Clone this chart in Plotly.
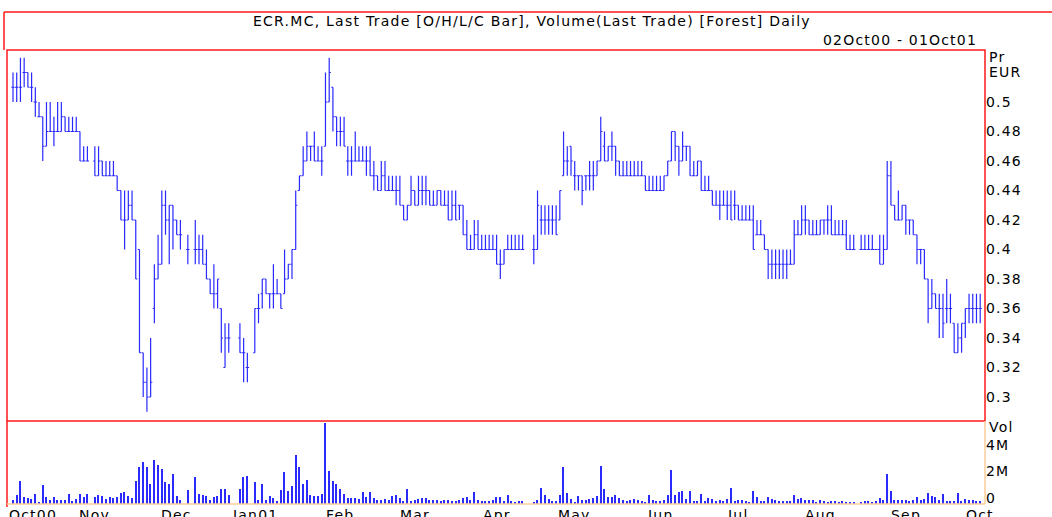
import pandas as pd
import plotly.graph_objects as go

W, H = 1052, 517

# trading days shown on the chart (weekdays, 02Oct00 .. 01Oct01)
DATES = pd.bdate_range("2000-10-02", "2001-10-01")

# prices in euro cents, one entry per trading day, None = no trade
OPEN_C = [
    51, 51, 51, 52, 52, 51, 50, 49, 49, 47, 48, 48, 48, 48, 49, 48, 48, 48, 48, 46, 46, None,  # Oct
    46, 45, 46, 45, 45, 45, 45, 44, 42, 42, 43, 42, 40, 33, 31, 30, 36, 38, 39, 43, 42, 43,  # Nov
    42, 41, None, 40, None, 40, 40, 40, 39, 38, 37, 37, 36, 32, 34, None, None, 34, 33, 32, None,  # Dec
    33, 36, 37, 38, 37, 37, 37, 37, 37, 38, 39, 40, 44, 45, 46, 47, 47, 46, 46, 47, 50, 51, 49,  # Jan
    48, 48, 46, 46, 46, 46, 46, 46, 46, 45, 45, 44, 45, 44, 44, 44, 44, 43, 42, 43,  # Feb
    44, 43, 44, 44, 44, 43, 43, 44, 43, 43, 42, 43, 43, 43, 41, 40, 40, 41, 40, 40, 40, 40,  # Mar
    40, 39, 39, 40, 40, 40, 40, 40, None, None, 40, 40, 42, 42, 42, 42, 42, 42, 45, 46, 47,  # Apr
    45, 45, 45, 45, 45, 45, 45, 46, 47, 46, 47, 47, 46, 45, 45, 45, 45, 45, 45, 45, 44, 44, 44,  # May
    44, 44, 45, 46, 48, 47, 46, 47, 47, 45, 45, 46, 44, 44, 44, 43, 43, 43, 43, 43, 43,  # Jun
    43, 42, 42, 42, 42, 41, 41, 41, 40, 39, 39, 39, 39, 39, 39, 39, 41, 41, 42, 42, 41, 41,  # Jul
    41, 42, 42, 42, 41, 41, 41, 41, 40, 40, None, 40, 40, 40, 40, 40, 40, 39, 40, 45, 43, 42, 42,  # Aug
    43, 42, 42, 41, 40, 40, 38, 36, 37, 36, 36, 36, 36, 35, 33, 34, 35, 36, 36, 36,  # Sep
    36,  # Oct
]
HIGH_C = [
    52, 52, 53, 53, 52, 52, 51, 50, 49, 50, 50, 49, 50, 50, 49, 49, 49, 49, 48, 47, 47, None,
    47, 47, 46, 46, 46, 46, 45, 44, 44, 44, 44, 42, 40, 33, 32, 34, 39, 41, 44, 44, 43, 43,
    42, 42, None, 41, None, 42, 41, 41, 40, 38, 39, 38, 36, 35, 35, None, None, 35, 34, 33, None,
    36, 37, 38, 38, 37, 39, 38, 37, 40, 39, 40, 44, 45, 47, 48, 47, 48, 47, 47, 52, 53, 51, 49,
    49, 49, 47, 47, 48, 47, 47, 47, 47, 46, 45, 46, 46, 45, 45, 45, 45, 43, 43, 45,
    44, 45, 45, 45, 44, 44, 44, 44, 44, 44, 44, 44, 43, 43, 42, 41, 42, 42, 41, 41, 41, 41,
    41, 40, 40, 41, 41, 41, 41, 41, None, None, 41, 44, 43, 43, 43, 43, 43, 44, 48, 47, 47,
    46, 45, 45, 45, 46, 46, 46, 49, 48, 47, 48, 47, 46, 46, 46, 46, 46, 46, 46, 45, 45, 45, 45,
    45, 45, 46, 48, 48, 47, 48, 47, 47, 46, 46, 46, 45, 45, 44, 44, 44, 44, 44, 44, 44,
    43, 43, 43, 43, 43, 42, 42, 41, 40, 40, 40, 40, 40, 40, 40, 42, 42, 43, 43, 42, 42, 42,
    42, 42, 43, 43, 42, 42, 42, 42, 41, 41, None, 41, 41, 41, 41, 40, 41, 41, 46, 46, 43, 44, 43,
    43, 42, 42, 41, 40, 40, 38, 38, 37, 37, 37, 38, 37, 35, 35, 35, 36, 37, 37, 37,
    37,
]
LOW_C = [
    50, 50, 50, 51, 51, 50, 49, 49, 46, 47, 48, 47, 48, 48, 48, 48, 48, 48, 46, 46, 46, None,
    45, 45, 45, 45, 45, 45, 44, 42, 40, 42, 42, 38, 33, 30, 29, 30, 35, 38, 39, 41, 39, 40,
    41, 40, None, 39, None, 39, 39, 39, 38, 37, 36, 36, 33, 32, 33, None, None, 33, 31, 31, None,
    33, 35, 36, 37, 36, 36, 37, 36, 37, 38, 38, 40, 44, 45, 46, 46, 46, 46, 45, 47, 50, 48, 47,
    47, 47, 45, 45, 46, 46, 46, 45, 45, 44, 44, 44, 44, 44, 44, 43, 43, 42, 42, 43,
    43, 43, 43, 43, 43, 43, 43, 43, 43, 42, 42, 42, 42, 41, 40, 40, 40, 40, 40, 40, 40, 40,
    39, 38, 39, 40, 40, 40, 40, 40, None, None, 39, 40, 41, 41, 41, 41, 41, 42, 45, 45, 45,
    44, 44, 43, 44, 44, 44, 45, 46, 46, 46, 46, 45, 45, 45, 45, 45, 45, 45, 45, 44, 44, 44, 44,
    44, 44, 45, 46, 46, 45, 46, 46, 45, 45, 45, 44, 44, 44, 43, 43, 42, 43, 42, 42, 42,
    42, 42, 42, 42, 40, 41, 41, 40, 38, 38, 38, 38, 38, 38, 39, 39, 41, 41, 41, 41, 41, 41,
    41, 41, 41, 41, 41, 41, 41, 40, 40, 40, None, 40, 40, 40, 40, 40, 39, 39, 40, 43, 42, 42, 42,
    41, 41, 41, 39, 39, 38, 35, 36, 36, 34, 34, 35, 35, 33, 33, 33, 34, 35, 35, 35,
    35,
]
CLOSE_C = [
    51, 51, 51, 52, 51, 51, 50, 49, 47, 48, 48, 48, 48, 49, 48, 48, 48, 48, 46, 46, 46, None,
    45, 46, 45, 45, 45, 45, 44, 42, 42, 43, 42, 38, 33, 31, 30, 31, 38, 39, 43, 42, 43, 42,
    41, 41, None, 40, None, 40, 40, 39, 38, 37, 37, 38, 34, 34, 34, None, None, 33, 33, 32, None,
    36, 36, 38, 37, 37, 37, 37, 36, 38, 39, 40, 43, 45, 46, 47, 47, 46, 46, 46, 50, 52, 49, 48,
    48, 47, 46, 46, 46, 46, 46, 46, 45, 45, 44, 45, 44, 44, 44, 44, 43, 42, 43, 44,
    43, 44, 44, 44, 43, 43, 44, 43, 43, 42, 43, 42, 43, 41, 40, 40, 41, 40, 40, 40, 40, 40,
    39, 39, 40, 40, 40, 40, 40, 40, None, None, 40, 43, 42, 42, 42, 42, 41, 44, 46, 46, 46,
    45, 45, 44, 45, 45, 45, 46, 48, 46, 47, 47, 46, 45, 45, 45, 45, 45, 45, 45, 44, 44, 44, 44,
    44, 45, 46, 48, 47, 46, 47, 47, 45, 45, 46, 44, 44, 44, 43, 43, 43, 43, 43, 42, 43,
    42, 42, 42, 42, 40, 41, 41, 40, 39, 39, 39, 39, 39, 39, 39, 41, 41, 42, 42, 41, 41, 41,
    42, 42, 42, 41, 41, 41, 41, 40, 40, 40, None, 40, 40, 40, 40, 40, 39, 40, 45, 43, 42, 42, 43,
    42, 42, 41, 40, 40, 38, 36, 37, 36, 36, 35, 36, 36, 33, 34, 35, 36, 36, 36, 36,
    36,
]
# volume in millions of shares
VOLUME_M = [
    0.3, 0.7, 1.75, 0.5, 0.45, 0.4, 0.75, 0.15, 1.4, 0.5, 0.3, 0.5, 0.3, 0.3, 0.28, 0.75, 0.2, 0.38, 0.75, 0.5, 0.75, 0,
    0.5, 0.68, 0.58, 0.38, 0.5, 0.45, 0.5, 0.83, 0.93, 0.58, 0.45, 1.75, 2.77, 3.17, 2.8, 1.53, 3.35, 2.97, 2.67, 1.63, 1.53, 2.26,
    0.63, 0.3, 0, 1.08, 0, 2.04, 0.75, 0.7, 0.63, 0.3, 0.5, 0.63, 1.16, 1.16, 0.7, 0, 0, 1.16, 2.04, 2.14, 0,
    1.63, 0.3, 1.53, 0.3, 0.63, 0.45, 0.2, 1.08, 2.4, 1.0, 1.38, 3.67, 2.77, 1.53, 1.84, 0.7, 0.63, 0.63, 0.75, 6.1, 2.47, 1.76, 1.53,
    1.13, 0.75, 0.45, 0.45, 0.45, 0.38, 0.9, 0.53, 0.93, 0.45, 0.33, 0.33, 0.38, 0.33, 0.58, 0.7, 0.45, 0.2, 1.13, 0.25,
    0.33, 0.38, 0.45, 0.45, 0.33, 0.28, 0.28, 0.2, 0.33, 0.33, 0.25, 0.2, 0.33, 0.45, 0.53, 0.33, 0.9, 0.33, 0.2, 0.2, 0.2, 0.28,
    0.53, 0.53, 0.2, 0.7, 0.2, 0.13, 0.2, 0.2, 0, 0, 0.15, 0.33, 1.2, 0.7, 0.38, 0.2, 0.2, 0.7, 2.8, 0.83, 0.38,
    0.15, 0.63, 0.28, 0.33, 0.38, 0.45, 0.58, 2.84, 1.13, 0.53, 0.53, 0.7, 0.45, 0.28, 0.2, 0.33, 0.38, 0.33, 0.2, 0.15, 0.7, 0.28, 0.2,
    0.2, 0.28, 0.7, 2.54, 0.7, 0.88, 1.0, 0.38, 1.0, 0.2, 0.2, 0.78, 0.2, 0.45, 0.38, 0.2, 0.28, 0.2, 0.38, 1.2, 0.2,
    0.28, 0.28, 0.2, 0.15, 0.95, 0.53, 0.2, 0.2, 0.53, 0.38, 0.33, 0.2, 0.2, 0.2, 0.2, 0.7, 0.38, 0.45, 0.33, 0.33, 0.33, 0.13,
    0.28, 0.2, 0.13, 0.2, 0.2, 0.13, 0.2, 0.13, 0.13, 0.13, 0, 0.13, 0.2, 0.2, 0.13, 0.2, 0.45, 0.33, 2.29, 1.0, 0.33, 0.33, 0.28,
    0.33, 0.2, 0.33, 0.53, 0.28, 0.38, 0.83, 0.63, 0.53, 0.33, 0.75, 0.2, 0.2, 0.2, 0.83, 0.2, 0.38, 0.33, 0.33, 0.2,
    0.2,
]

PRICE_TICKS = [0.30, 0.32, 0.34, 0.36, 0.38, 0.40, 0.42, 0.44, 0.46, 0.48, 0.50]
PRICE_TICK_TEXT = ["0.3", "0.32", "0.34", "0.36", "0.38", "0.4", "0.42", "0.44", "0.46", "0.48", "0.5"]
VOL_TICKS = [0, 2e6, 4e6]
VOL_TICK_TEXT = ["0", "2M", "4M"]
MONTH_TEXT = ["Oct00", "Nov", "Dec", "Jan01", "Feb", "Mar", "Apr", "May", "Jun", "Jul", "Aug", "Sep", "Oct"]

TITLE = "ECR.MC, Last Trade [O/H/L/C Bar], Volume(Last Trade) [Forest] Daily"
SUBTITLE = "02Oct00 - 01Oct01"

BLUE = "#2a2aff"
RED = "#ff1a1a"
PEACH = "#ffcc99"
FONT = "DejaVu Sans"

# panel geometry in pixels
L, R = 7, 985
TOP, MID, BOT = 50, 421, 504
X0_PX, STEP_PX = 13, 3.72          # pixel of the first bar and bar spacing
P_REF, P_REF_PX, PX_PER_P = 0.5, 102, 1475
PX_PER_M = 13.25


def fx(p):
    return p / W


def fy(p):
    return 1 - p / H


def sp(text, track=1.2):
    # the original chart uses a widely tracked font
    return f'<span style="letter-spacing:{track}px">{text}</span>'


idx = list(range(len(DATES)))
cents = lambda arr: [None if v is None else v / 100 for v in arr]
vol = [v * 1e6 for v in VOLUME_M]

fig = go.Figure()
fig.add_trace(
    go.Ohlc(
        x=idx,
        open=cents(OPEN_C),
        high=cents(HIGH_C),
        low=cents(LOW_C),
        close=cents(CLOSE_C),
        increasing=dict(line=dict(color=BLUE, width=1.2)),
        decreasing=dict(line=dict(color=BLUE, width=1.2)),
        tickwidth=0.45,
        xaxis="x",
        yaxis="y",
        hoverinfo="skip",
    )
)
fig.add_trace(
    go.Bar(
        x=idx,
        y=vol,
        width=0.35,
        marker=dict(color=BLUE, line=dict(width=0)),
        xaxis="x",
        yaxis="y2",
        hoverinfo="skip",
    )
)

# month labels under the volume panel
month_starts = []
for i, d in enumerate(DATES):
    if i == 0 or d.month != DATES[i - 1].month:
        month_starts.append(i)

x_range = [(L - X0_PX) / STEP_PX, (R - X0_PX) / STEP_PX]
annotations = []
for k, (i, txt) in enumerate(zip(month_starts, MONTH_TEXT)):
    annotations.append(
        dict(
            x=x_range[0] if k == 0 else i,
            y=fy(515),
            xref="x",
            yref="paper",
            text=sp(txt),
            showarrow=False,
            xanchor="left" if k == 0 else "center",
            yanchor="middle",
            font=dict(family=FONT, size=14, color="black"),
        )
    )

for txt, ypx in [("Pr", 57), ("EUR", 72), ("Vol", 427)]:
    annotations.append(
        dict(
            x=fx(R + 2), y=fy(ypx), xref="paper", yref="paper", text=sp(txt),
            showarrow=False, xanchor="left", yanchor="middle",
            font=dict(family=FONT, size=14, color="black"),
        )
    )

annotations.append(
    dict(
        x=fx(532), y=fy(21), xref="paper", yref="paper", text=sp(TITLE, 1.25),
        showarrow=False, xanchor="center", yanchor="middle",
        font=dict(family=FONT, size=14, color="black"),
    )
)
annotations.append(
    dict(
        x=fx(979), y=fy(40), xref="paper", yref="paper", text=sp(SUBTITLE),
        showarrow=False, xanchor="right", yanchor="middle",
        font=dict(family=FONT, size=14, color="black"),
    )
)

shapes = [
    # outer frame
    dict(type="line", xref="paper", yref="paper", x0=fx(4), x1=fx(W), y0=fy(12), y1=fy(12),
         line=dict(color=RED, width=1.5)),
    dict(type="line", xref="paper", yref="paper", x0=fx(4), x1=fx(4), y0=fy(12), y1=fy(TOP),
         line=dict(color=RED, width=1.5)),
    # price panel
    dict(type="rect", xref="paper", yref="paper", x0=fx(L), x1=fx(R), y0=fy(MID), y1=fy(TOP),
         line=dict(color=RED, width=1.5)),
    # volume panel
    dict(type="line", xref="paper", yref="paper", x0=fx(L), x1=fx(L), y0=fy(507), y1=fy(MID),
         line=dict(color=RED, width=1.5)),
    dict(type="line", xref="paper", yref="paper", x0=fx(R), x1=fx(R), y0=fy(BOT), y1=fy(MID),
         line=dict(color=PEACH, width=1.5)),
    dict(type="line", xref="paper", yref="paper", x0=fx(L), x1=fx(R), y0=fy(BOT), y1=fy(BOT),
         line=dict(color=PEACH, width=1.5)),
]

fig.update_layout(
    width=W,
    height=H,
    margin=dict(l=0, r=0, t=0, b=0),
    paper_bgcolor="white",
    plot_bgcolor="white",
    showlegend=False,
    font=dict(family=FONT, size=14, color="black"),
    xaxis=dict(
        domain=[fx(L), fx(R)],
        range=x_range,
        anchor="y2",
        showticklabels=False,
        showgrid=False,
        zeroline=False,
        showline=False,
        ticks="",
        rangeslider=dict(visible=False),
        automargin=False,
    ),
    yaxis=dict(
        domain=[fy(MID), fy(TOP)],
        anchor="x",
        side="right",
        range=[P_REF - (MID - P_REF_PX) / PX_PER_P, P_REF + (P_REF_PX - TOP) / PX_PER_P],
        tickvals=PRICE_TICKS,
        ticktext=[sp(t) for t in PRICE_TICK_TEXT],
        tickfont=dict(family=FONT, size=14, color="black"),
        showgrid=False,
        zeroline=False,
        showline=False,
        ticks="",
        automargin=False,
    ),
    yaxis2=dict(
        domain=[fy(BOT), fy(MID)],
        anchor="x",
        side="right",
        range=[0, (BOT - MID) / PX_PER_M * 1e6],
        tickvals=VOL_TICKS,
        ticktext=[sp(t) for t in VOL_TICK_TEXT],
        ticklabelshift=-6,
        tickfont=dict(family=FONT, size=14, color="black"),
        showgrid=False,
        zeroline=False,
        showline=False,
        ticks="",
        automargin=False,
    ),
    annotations=annotations,
    shapes=shapes,
    bargap=0,
)

# the page's default 8px body margin would push the chart off its frame
fig.write_html(
    "out.html",
    config={"displayModeBar": False},
    post_script="document.body.style.margin='0px';",
)
